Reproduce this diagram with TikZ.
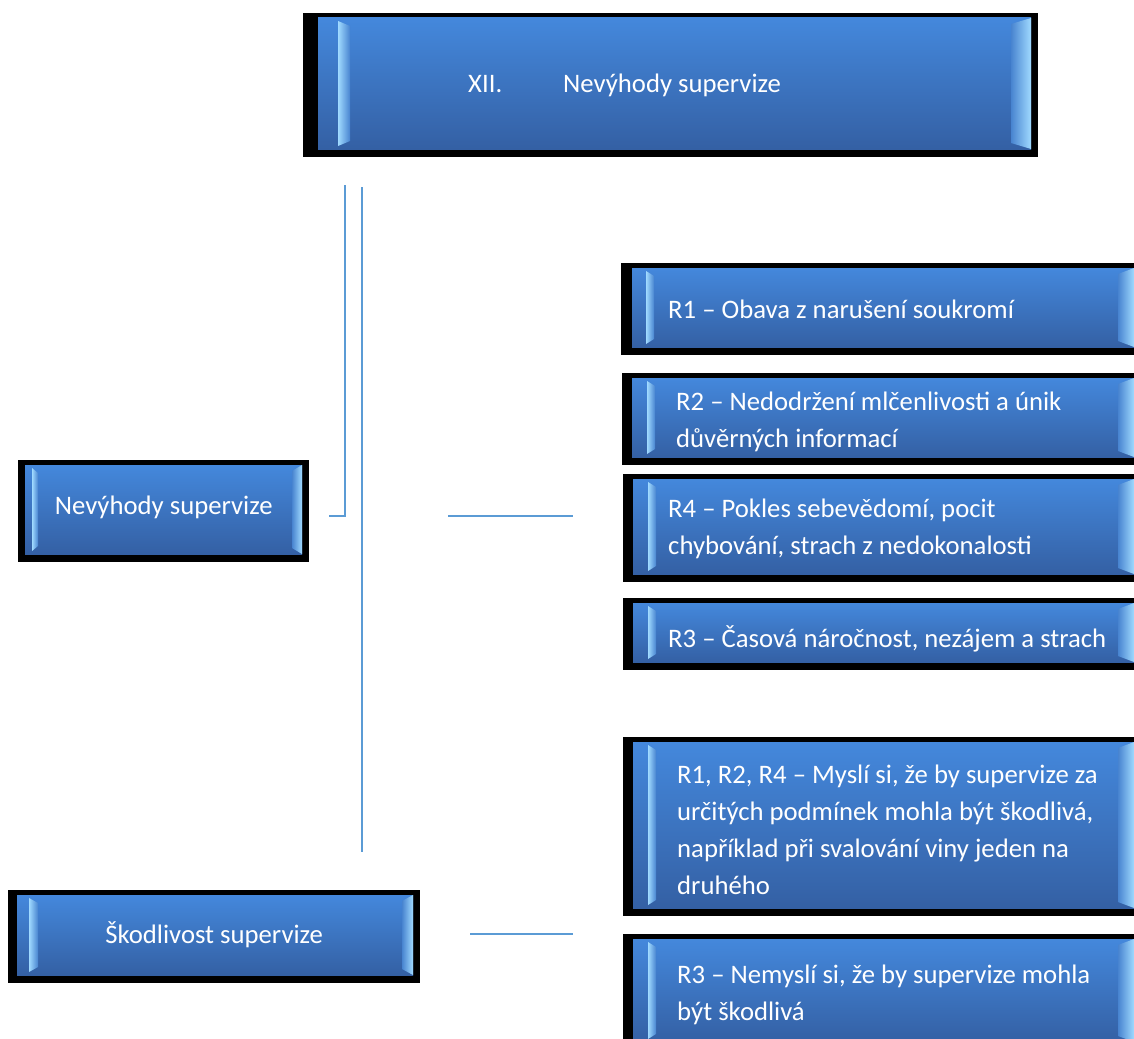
\documentclass[tikz,border=0pt]{standalone}
\usepackage{fontspec}
\setmainfont{Carlito}
\definecolor{boxtop}{RGB}{68,136,220}
\definecolor{boxbottom}{RGB}{52,96,164}
\definecolor{bevellight}{RGB}{160,218,255}
\definecolor{bevelmid}{RGB}{72,132,208}
\definecolor{linkblue}{RGB}{91,155,213}
\tikzset{
  txt/.style={inner sep=0pt, text=white, align=left,
    font=\fontsize{26.7}{37}\selectfont},
  link/.style={draw=linkblue, line width=2pt},
}
% #1 name, #2/#3 top-left, #4/#5 bottom-right, #6 black rim on the left,
% #7 offset of the left bevel, #8 its width, #9 width of the right bevel
\newcommand\bevelbox[9]{%
  \node[fill=black, inner sep=0pt, anchor=north west,
        minimum width=#4-#2, minimum height=#5-#3] (#1) at (#2,#3) {};
  \shade[top color=boxtop, bottom color=boxbottom]
    (#2+#6,#3+5) rectangle (#4-7,#5-8);
  \shade[left color=bevellight, right color=bevelmid]
    (#2+#6+#7,#3+8) -- (#2+#6+#7+#8,#3+13) -- (#2+#6+#7+#8,#5-16)
    -- (#2+#6+#7,#5-11) -- cycle;
  \shade[left color=bevelmid, right color=bevellight]
    (#4-7-#9,#3+11) -- (#4-7,#3+5) -- (#4-7,#5-8) -- (#4-7-#9,#5-14) -- cycle;
}
\begin{document}
\begin{tikzpicture}[x=1pt,y=-1pt]
  \useasboundingbox (0,0) rectangle (1134,1038);
  \fill[white] (0,0) rectangle (1134,1038);
  \clip (0,0) rectangle (1134,1038);

  % boxes
  \bevelbox{title}{303}{13}{1038}{157}{15}{20}{12}{20}
  \bevelbox{nev}{18}{460}{309}{562}{7}{7}{6}{10}
  \bevelbox{sko}{8}{890}{420}{983}{9}{12}{9}{11}
  \bevelbox{ra}{621}{263}{1141}{355}{11}{14}{8}{16}
  \bevelbox{rb}{622}{373}{1141}{465}{10}{15}{8}{16}
  \bevelbox{rc}{623}{474}{1141}{582}{10}{15}{8}{16}
  \bevelbox{rd}{623}{598}{1141}{670}{10}{15}{8}{16}
  \bevelbox{re}{623}{737}{1141}{916}{10}{15}{8}{16}
  \bevelbox{rf}{623}{934}{1141}{1050}{10}{15}{8}{16}

  % texts
  \node[txt, anchor=west] (titlet) at ([xshift=165]title.west)
    {\makebox[95pt][l]{XII.}Nevýhody supervize};
  \node[txt] (nevt) at ([yshift=4]nev.center) {Nevýhody supervize};
  \node[txt] (skot) at ([yshift=2]sko.center) {Škodlivost supervize};
  \node[txt, anchor=west] (rat) at ([xshift=47]ra.west) {R1 – Obava z narušení soukromí};
  \node[txt, anchor=west] (rbt) at ([xshift=54,yshift=-3]rb.west)
    {R2 – Nedodržení mlčenlivosti a únik\\důvěrných informací};
  \node[txt, anchor=west] (rct) at ([xshift=45,yshift=-1]rc.west)
    {R4 – Pokles sebevědomí, pocit\\chybování, strach z nedokonalosti};
  \node[txt, anchor=west] (rdt) at ([xshift=45,yshift=-5]rd.west)
    {R3 – Časová náročnost, nezájem a strach};
  \node[txt, anchor=west] (ret) at ([xshift=54,yshift=-3]re.west)
    {R1, R2, R4 – Myslí si, že by supervize za\\určitých podmínek mohla být škodlivá,\\například při svalování viny jeden na\\druhého};
  \node[txt, anchor=west] (rft) at ([xshift=54,yshift=-3]rf.west)
    {R3 – Nemyslí si, že by supervize mohla\\být škodlivá};

  % connector lines
  \coordinate (atop) at (345,185);
  \coordinate (aend) at (329,516);
  \coordinate (btop) at (362,187);
  \coordinate (bend) at (362,852);
  \coordinate (cl) at (448,516);
  \coordinate (cr) at (573,516);
  \coordinate (dl) at (470,934);
  \coordinate (dr) at (573,934);
  \draw[link] (atop) |- (aend);
  \draw[link] (btop) -- (bend);
  \draw[link] (cl) -- (cr);
  \draw[link] (dl) -- (dr);
\end{tikzpicture}
\end{document}
